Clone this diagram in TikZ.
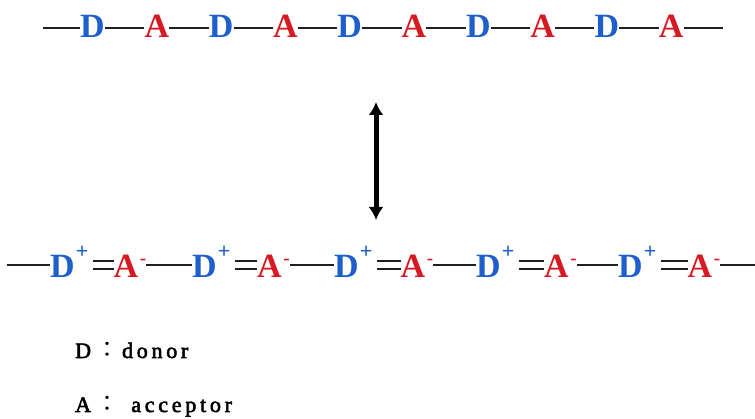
\documentclass[tikz,border=0pt]{standalone}
\usepackage{fontspec}
\setmainfont{Liberation Serif}
\newfontfamily\cjk{Noto Sans CJK JP}
\usetikzlibrary{arrows.meta}
\definecolor{dblue}{RGB}{30,95,205}
\definecolor{ared}{RGB}{215,25,35}
\newcommand\supplus{\kern1pt{\fontsize{22}{22}\selectfont\raisebox{19pt}{+}}}
\newcommand\supminus{\kern1.5pt{\fontsize{19}{19}\selectfont\raisebox{13pt}{-}}}
\tikzset{
  letter/.style={font=\fontsize{34}{34}\selectfont\bfseries, inner sep=0pt, text depth=0pt},
  toprow/.style={letter, text height=20pt},
  botrow/.style={letter, text height=26pt, anchor=west},
  don/.style={text=dblue},
  acc/.style={text=ared},
  bond/.style={line width=2pt, draw=black!88},
  legend/.style={font=\fontsize{22}{22}\selectfont\addfontfeature{LetterSpace=17,FakeBold=2.5}, inner sep=0pt, anchor=base west},
  dblarrow/.style={line width=5pt, {Latex[length=13pt,width=15pt]}-{Latex[length=13pt,width=15pt]}},
}
\begin{document}
\begin{tikzpicture}[x=1pt,y=1pt]
\fill[white] (0,0) rectangle (755,419);
\useasboundingbox (0,0) rectangle (755,419);

% top row
\coordinate (tl) at (43,391);
\coordinate (tr) at (723,391);
\foreach \i in {0,...,4}{
  \node[toprow,don] (td\i) at ({92.5+128.6*\i},391) {D};
  \node[toprow,acc] (ta\i) at ({156.8+128.6*\i},391) {A};
}
\draw[bond] (tl) -- (td0.west);
\foreach \i in {0,...,4}{
  \draw[bond] (td\i.east) -- (ta\i.west);
}
\foreach \i/\j in {0/1,1/2,2/3,3/4}{
  \draw[bond] (ta\i.east) -- (td\j.west);
}
\draw[bond] (ta4.east) -- (tr);

% arrow
\coordinate (au) at (376,317);
\coordinate (ad) at (376,199);
\draw[dblarrow] (au) -- (ad);

% bottom row
\coordinate (bl) at (7,154);
\coordinate (br) at (755,154);
\foreach \i in {0,...,4}{
  \node[botrow,don] (bd\i) at ({50+142*\i},154) {D\supplus};
  \node[botrow,acc] (ba\i) at ({113.5+143.5*\i},154) {A\supminus};
}
\draw[bond] (bl) -- (bd0.west);
\foreach \i in {0,...,4}{
  \draw[bond,shorten <=5pt] ([yshift=4pt]bd\i.east) -- ([yshift=4pt]ba\i.west);
  \draw[bond,shorten <=5pt] ([yshift=-4pt]bd\i.east) -- ([yshift=-4pt]ba\i.west);
}
\foreach \i/\j in {0/1,1/2,2/3,3/4}{
  \draw[bond] (ba\i.east) -- (bd\j.west);
}
\draw[bond] (ba4.east) -- (br);

% legend
\node[legend] (lg1) at (75,61) {D\kern5pt{\cjk ：}\kern4pt donor};
\node[legend] (lg2) at (75,7) {A\kern5pt{\cjk ：}\kern4pt\ acceptor};
\end{tikzpicture}
\end{document}
